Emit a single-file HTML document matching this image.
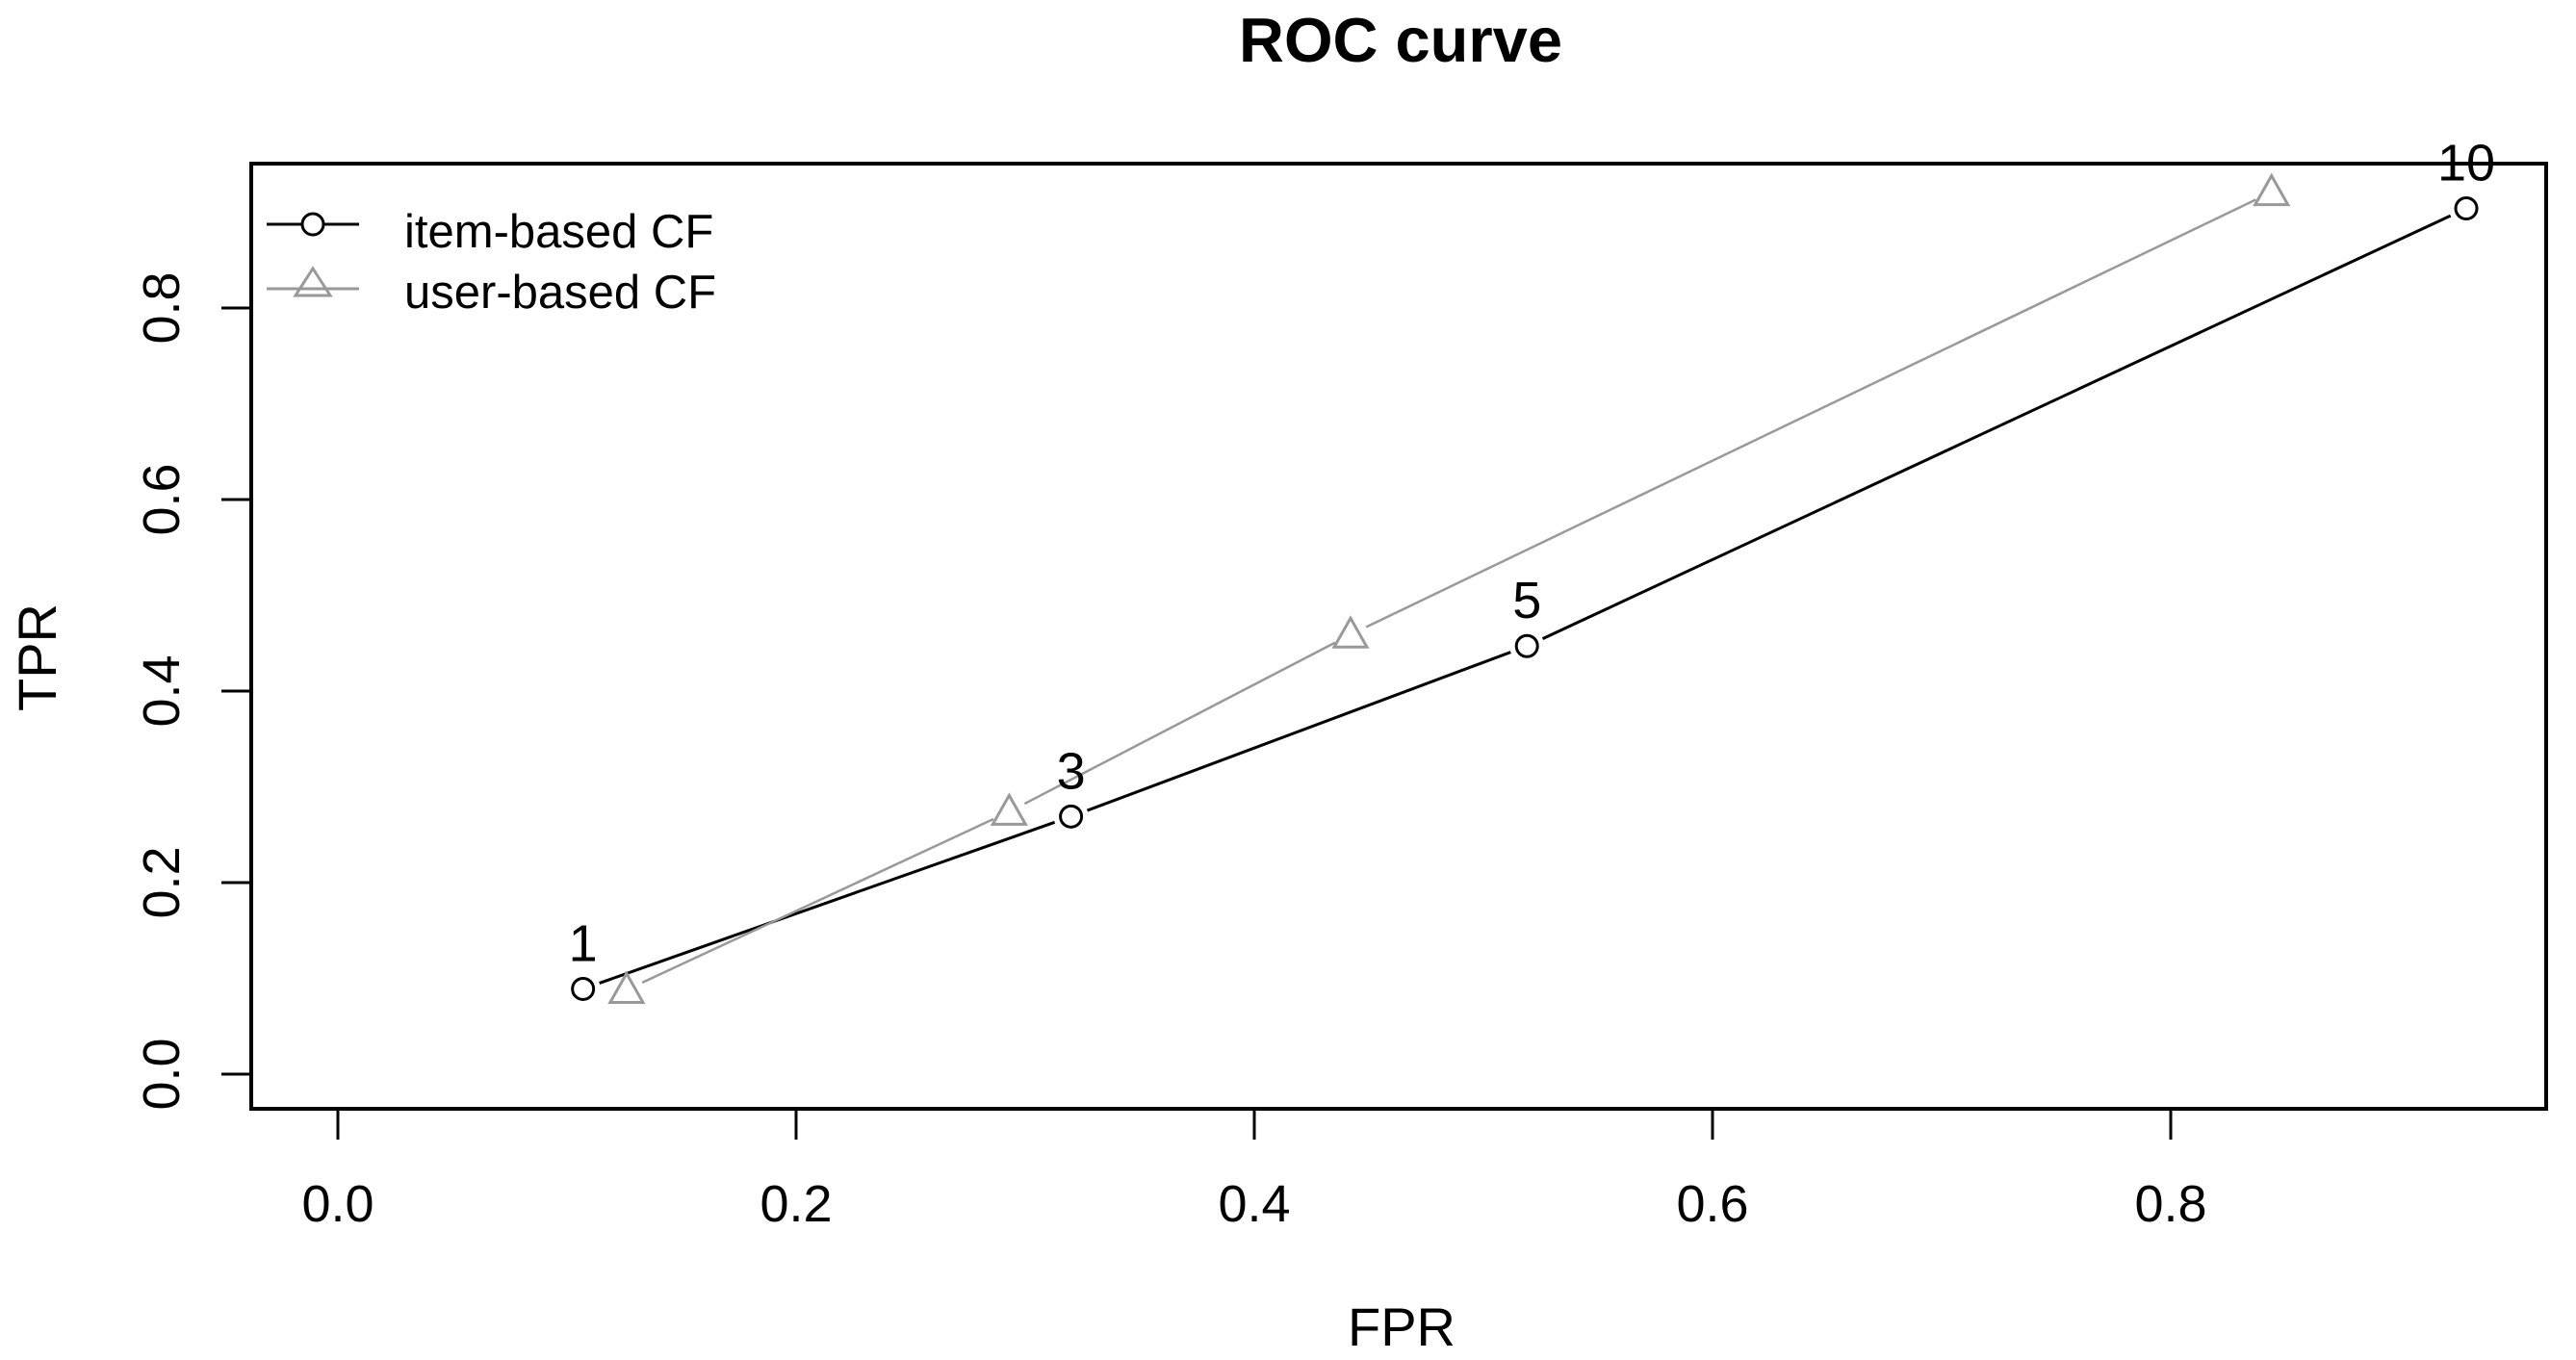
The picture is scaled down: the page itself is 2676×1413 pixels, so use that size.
<!DOCTYPE html>
<html><head><meta charset="utf-8"><style>
html,body{margin:0;padding:0;background:#fff;}
svg{display:block;font-family:"Liberation Sans",Arial,sans-serif;}
</style></head><body>
<svg id="chart" width="2676" height="1413" viewBox="0 0 2676 1413">
<text x="1455" y="64" font-size="65" font-weight="bold" text-anchor="middle">ROC curve</text>
<rect x="261" y="170" width="2384" height="982" fill="none" stroke="#000" stroke-width="4"/>
<g id="xaxis"></g>
<g id="yaxis"></g>
<text x="1456" y="1398" font-size="56" text-anchor="middle">FPR</text>
<text transform="translate(58,683) rotate(-90)" font-size="56" text-anchor="middle">TPR</text>
<g id="series"></g>
<g>
  <line x1="277" y1="233" x2="373" y2="233" stroke="#000" stroke-width="3"/>
  <circle cx="325" cy="233" r="11" fill="#fff" stroke="#000" stroke-width="3"/>
  <text x="420" y="257" font-size="49">item-based CF</text>
  <line x1="277" y1="300" x2="373" y2="300" stroke="#999" stroke-width="3"/>
  <polygon points="325,279 343,307 307,307" fill="none" stroke="#999" stroke-width="3"/>
  <text x="420" y="320" font-size="49">user-based CF</text>
</g>
</svg>
<script>
const xTicks = [0.0, 0.2, 0.4, 0.6, 0.8];
const yTicks = [0.0, 0.2, 0.4, 0.6, 0.8];
const itemFPR = [0.107, 0.320, 0.519, 0.929];
const itemTPR = [0.089, 0.269, 0.447, 0.904];
const userFPR = [0.126, 0.293, 0.442, 0.844];
const userTPR = [0.088, 0.274, 0.459, 0.921];
const pointLabels = ["1", "3", "5", "10"];

const NS = "http://www.w3.org/2000/svg";
function sx(v){ return 351 + v * 2380; }
function sy(v){ return 1116 - v * 995; }
function mk(tag, attrs, parent){
  const e = document.createElementNS(NS, tag);
  for (const k in attrs) e.setAttribute(k, attrs[k]);
  parent.appendChild(e); return e;
}
const xa = document.getElementById('xaxis');
const ya = document.getElementById('yaxis');
const ser = document.getElementById('series');

xTicks.forEach(t => {
  const l = mk('line', {x1: sx(t), x2: sx(t), y1: 1152, y2: 1184, stroke: '#000', 'stroke-width': 3}, xa);
  
  
  const tx = mk('text', {x: sx(t), y: 1269, 'font-size': 54, 'text-anchor': 'middle'}, xa);
  tx.textContent = t.toFixed(1);
  
  
});
yTicks.forEach(t => {
  const l = mk('line', {x1: 230, x2: 261, y1: sy(t), y2: sy(t), stroke: '#000', 'stroke-width': 3}, ya);
  
  
  const tx = mk('text', {transform: 'translate(186,' + sy(t) + ') rotate(-90)', 'font-size': 54, 'text-anchor': 'middle'}, ya);
  tx.textContent = t.toFixed(1);
  
  
});

function drawSeries(xs, ys, color, width, name){
  for (let i = 0; i < xs.length - 1; i++){
    const x1 = sx(xs[i]), y1 = sy(ys[i]), x2 = sx(xs[i+1]), y2 = sy(ys[i+1]);
    const d = Math.hypot(x2 - x1, y2 - y1), g = 18;
    const ux = (x2 - x1) / d, uy = (y2 - y1) / d;
    const l = mk('line', {x1: x1 + ux*g, y1: y1 + uy*g, x2: x2 - ux*g, y2: y2 - uy*g, stroke: color, 'stroke-width': width}, ser);
    
    
  }
}
drawSeries(itemFPR, itemTPR, '#000', 3, 'item');
drawSeries(userFPR, userTPR, '#999', 2.5, 'user');

itemFPR.forEach((v, i) => {
  const c = mk('circle', {cx: sx(v), cy: sy(itemTPR[i]), r: 11, fill: 'none', stroke: '#000', 'stroke-width': 3}, ser);
  
  
  const t = mk('text', {x: sx(v), y: sy(itemTPR[i]) - 29, 'font-size': 54, 'text-anchor': 'middle'}, ser);
  t.textContent = pointLabels[i];
  
  
});
userFPR.forEach((v, i) => {
  const cx = sx(v), cy = sy(userTPR[i]);
  const p = mk('polygon', {points: (cx) + ',' + (cy - 17) + ' ' + (cx + 17) + ',' + (cy + 13) + ' ' + (cx - 17) + ',' + (cy + 13), fill: 'none', stroke: '#999', 'stroke-width': 3}, ser);
  
  
});
</script>
</body></html>
